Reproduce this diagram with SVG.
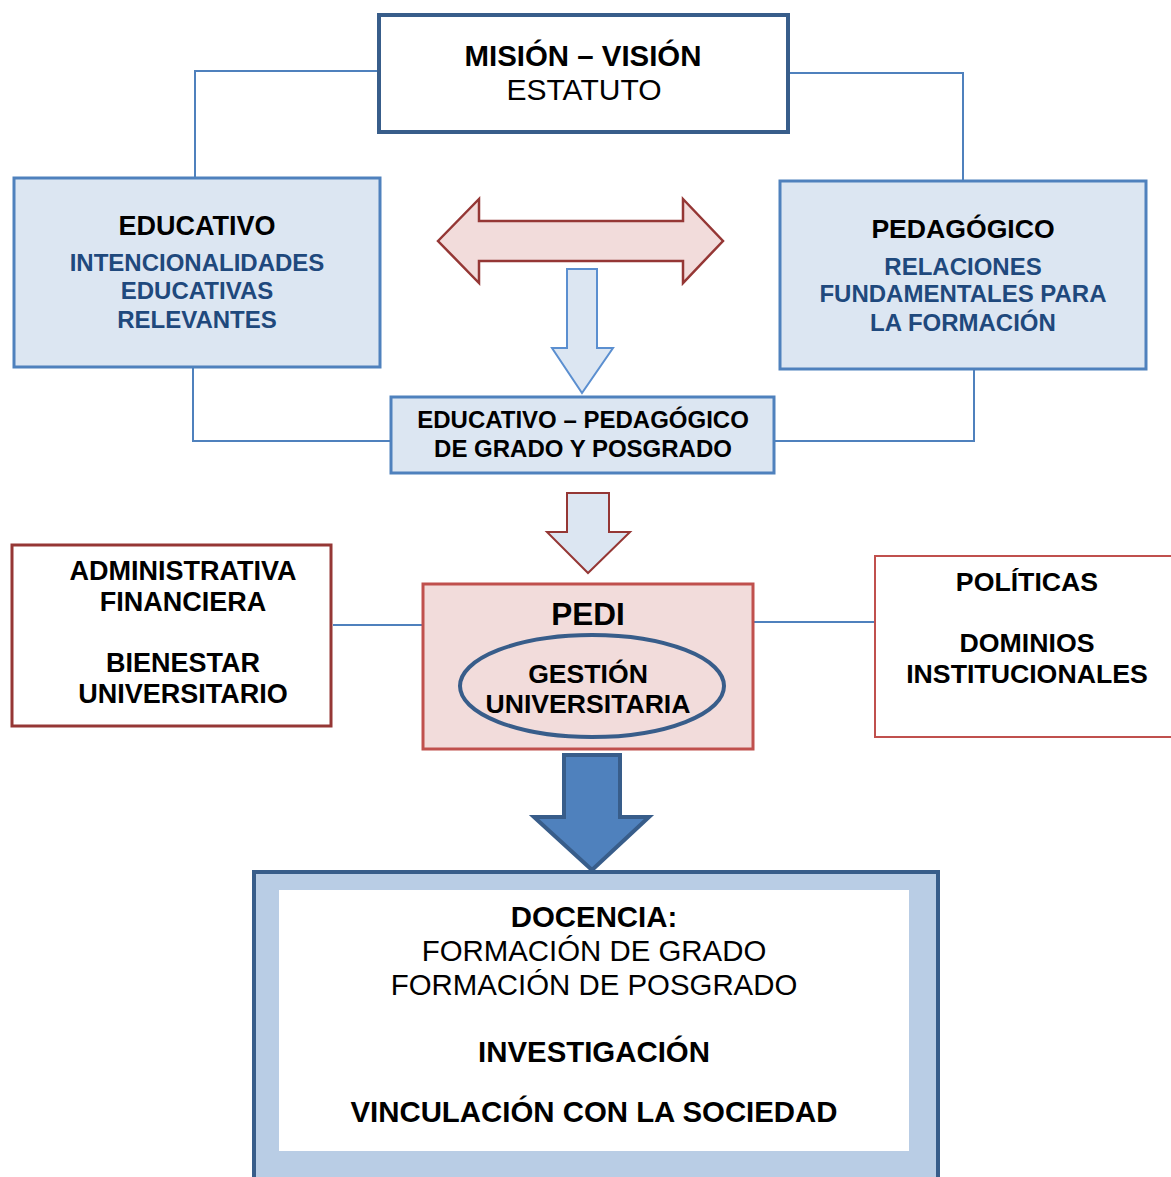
<svg xmlns="http://www.w3.org/2000/svg" width="1171" height="1177" viewBox="0 0 1171 1177">
<style>
text{font-family:"Liberation Sans",Arial,sans-serif;text-anchor:middle;fill:#000}
.b{font-weight:bold}
.blue{fill:#1F497D;font-weight:bold}
.conn{fill:none;stroke:#4F81BD;stroke-width:2}
</style>
<rect width="1171" height="1177" fill="#fff"/>
<g id="connectors">
<polyline class="conn" points="379,71 195,71 195,178"/>
<polyline class="conn" points="788,73 963,73 963,181"/>
<polyline class="conn" points="193,367 193,441 391,441"/>
<polyline class="conn" points="974,369 974,441 774,441"/>
<line class="conn" x1="333" y1="625" x2="423" y2="625"/>
<line class="conn" x1="753" y1="622" x2="875" y2="622"/>
</g>
<g id="arrow-double">
<path d="M438,241 L479,199 L479,221 L683,221 L683,199 L723,241 L683,283 L683,261 L479,261 L479,283 Z" fill="#F2DCDB" stroke="#953735" stroke-width="2.5"/>
</g>
<g id="arrow-down-1">
<path d="M567,269 L597,269 L597,348 L613,348 L582,393 L552,348 L567,348 Z" fill="#DCE6F2" stroke="#5B8FD0" stroke-width="2"/>
</g>
<g id="arrow-down-2">
<path d="M567,493 L609,493 L609,532 L630,532 L588,573 L547,532 L567,532 Z" fill="#DCE6F2" stroke="#953735" stroke-width="2"/>
</g>
<g id="arrow-down-3">
<path d="M564,755 L620,755 L620,817 L649,817 L592,870 L534,817 L564,817 Z" fill="#4F81BD" stroke="#385D8A" stroke-width="4"/>
</g>
<g id="mision">
<rect x="379" y="15" width="409" height="117" fill="#fff" stroke="#385D8A" stroke-width="4"/>
<text x="583" y="66" font-size="29.4" class="b">MISIÓN – VISIÓN</text>
<text x="584" y="100" font-size="30">ESTATUTO</text>
</g>
<g id="educativo">
<rect x="14" y="178" width="366" height="189" fill="#DCE6F2" stroke="#4F81BD" stroke-width="3"/>
<text x="197" y="235" font-size="27" class="b">EDUCATIVO</text>
<text x="197" y="271" font-size="24" class="blue">INTENCIONALIDADES</text>
<text x="197" y="299" font-size="24" class="blue">EDUCATIVAS</text>
<text x="197" y="328" font-size="24" class="blue">RELEVANTES</text>
</g>
<g id="pedagogico">
<rect x="780" y="181" width="366" height="188" fill="#DCE6F2" stroke="#4F81BD" stroke-width="3"/>
<text x="963" y="238" font-size="26.6" class="b">PEDAGÓGICO</text>
<text x="963" y="275" font-size="24" class="blue">RELACIONES</text>
<text x="963" y="302" font-size="24" class="blue">FUNDAMENTALES PARA</text>
<text x="963" y="331" font-size="24" class="blue">LA FORMACIÓN</text>
</g>
<g id="edu-ped">
<rect x="391" y="397" width="383" height="76" fill="#DCE6F2" stroke="#4F81BD" stroke-width="3"/>
<text x="583" y="428" font-size="24" class="b">EDUCATIVO – PEDAGÓGICO</text>
<text x="583" y="457" font-size="24" class="b">DE GRADO Y POSGRADO</text>
</g>
<g id="administrativa">
<rect x="12" y="545" width="319" height="181" fill="#fff" stroke="#953735" stroke-width="3"/>
<text x="183" y="580" font-size="27" class="b">ADMINISTRATIVA</text>
<text x="183" y="611" font-size="27" class="b">FINANCIERA</text>
<text x="183" y="672" font-size="27" class="b">BIENESTAR</text>
<text x="183" y="703" font-size="27" class="b">UNIVERSITARIO</text>
</g>
<g id="pedi">
<rect x="423" y="584" width="330" height="165" fill="#F2DCDB" stroke="#C0504D" stroke-width="3"/>
<text x="588" y="625" font-size="31.5" class="b">PEDI</text>
<ellipse cx="592" cy="686" rx="132" ry="51" fill="none" stroke="#385D8A" stroke-width="4"/>
<text x="588" y="683" font-size="26.6" class="b">GESTIÓN</text>
<text x="588" y="713" font-size="26.6" class="b">UNIVERSITARIA</text>
</g>
<g id="politicas">
<rect x="875" y="556" width="310" height="181" fill="#fff" stroke="#C0504D" stroke-width="2"/>
<text x="1027" y="591" font-size="26.7" class="b">POLÍTICAS</text>
<text x="1027" y="652" font-size="26.7" class="b">DOMINIOS</text>
<text x="1027" y="683" font-size="26.7" class="b">INSTITUCIONALES</text>
</g>
<g id="docencia">
<rect x="254" y="872" width="684" height="330" fill="#B9CDE5" stroke="#385D8A" stroke-width="4"/>
<rect x="279" y="890" width="630" height="261" fill="#fff"/>
<text x="594" y="927" font-size="29.4" class="b">DOCENCIA:</text>
<text x="594" y="961" font-size="29.4">FORMACIÓN DE GRADO</text>
<text x="594" y="995" font-size="29.4">FORMACIÓN DE POSGRADO</text>
<text x="594" y="1062" font-size="29.4" class="b">INVESTIGACIÓN</text>
<text x="594" y="1122" font-size="29.4" class="b">VINCULACIÓN CON LA SOCIEDAD</text>
</g>
</svg>
